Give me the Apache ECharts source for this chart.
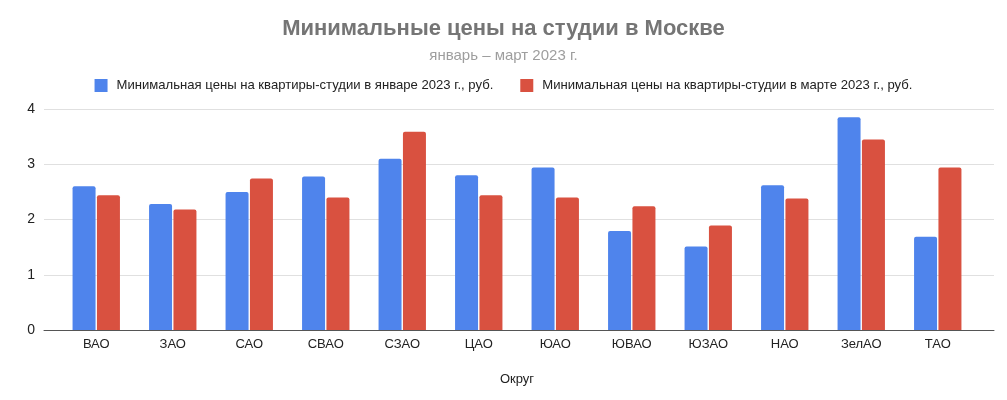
<!DOCTYPE html>
<html>
<head>
<meta charset="utf-8">
<script src="https://cdn.jsdelivr.net/npm/echarts@6/dist/echarts.min.js"></script>
<style>html,body{margin:0;padding:0;background:#fff}#c{width:1007px;height:400px}</style>
</head>
<body>
<div id="c"></div>
<script>
const categories = ['ВАО','ЗАО','САО','СВАО','СЗАО','ЦАО','ЮАО','ЮВАО','ЮЗАО','НАО','ЗелАО','ТАО'];
const janValues = [2.6, 2.28, 2.5, 2.78, 3.1, 2.8, 2.94, 1.79, 1.51, 2.62, 3.85, 1.69];
const marValues = [2.44, 2.18, 2.74, 2.4, 3.59, 2.44, 2.4, 2.24, 1.89, 2.38, 3.45, 2.94];
const yTicks = [0, 1, 2, 3, 4];
const seriesNames = ['Минимальная цены на квартиры-студии в январе 2023 г., руб.', 'Минимальная цены на квартиры-студии в марте 2023 г., руб.'];

const font = 'Liberation Sans, Arial, sans-serif';
const chart = echarts.init(document.getElementById('c'));
chart.setOption({
  animation: false,
  textStyle: {fontFamily: font},
  title: {
    text: 'Минимальные цены на студии в Москве',
    subtext: 'январь – март 2023 г.',
    left: 'center', top: 13, itemGap: 8,
    textStyle: {fontSize: 22, fontWeight: 'bold', color: '#757575', fontFamily: font},
    subtextStyle: {fontSize: 15, color: '#9e9e9e', fontFamily: font}
  },
  legend: {
    top: 74, left: 'center', itemWidth: 13, itemHeight: 13, itemGap: 27,
    icon: 'rect',
    textStyle: {fontSize: 13.1, color: '#222', fontFamily: font, padding: [0, 0, 0, 4]},
    data: seriesNames
  },
  grid: [
    {left: 44, right: 13, top: 109, bottom: 70},
    {left: 58, right: 31, top: 109, bottom: 70}
  ],
  xAxis: [
    {gridIndex: 0, type: 'value', min: 0, max: 1, axisLabel: {show: false}, axisTick: {show: false}, splitLine: {show: false},
     axisLine: {show: true, lineStyle: {color: '#555', width: 1}}},
    {gridIndex: 1, type: 'category', data: categories, axisLine: {show: false}, axisTick: {show: false},
     axisLabel: {fontSize: 13, color: '#222', margin: 8, fontFamily: font},
     name: 'Округ', nameLocation: 'middle', nameGap: 43,
     nameTextStyle: {fontSize: 13, color: '#222', fontFamily: font}}
  ],
  yAxis: [
    {gridIndex: 0, type: 'value', min: yTicks[0], max: yTicks[yTicks.length-1], interval: 1,
     axisLine: {show: false}, axisTick: {show: false},
     axisLabel: {fontSize: 14, color: '#222', margin: 9, fontFamily: font},
     splitLine: {lineStyle: {color: '#e0e0e0', width: 1}}},
    {gridIndex: 1, type: 'value', min: yTicks[0], max: yTicks[yTicks.length-1], interval: 1, show: false, splitLine: {show: false}}
  ],
  series: [
    {name: seriesNames[0], type: 'bar', xAxisIndex: 1, yAxisIndex: 1, data: janValues, barWidth: 23, barGap: '6%',
     itemStyle: {color: '#4f84ec', borderRadius: [2,2,0,0]}},
    {name: seriesNames[1], type: 'bar', xAxisIndex: 1, yAxisIndex: 1, data: marValues, barWidth: 23, barGap: '6%',
     itemStyle: {color: '#d95140', borderRadius: [2,2,0,0]}}
  ]
});
</script>
</body>
</html>
